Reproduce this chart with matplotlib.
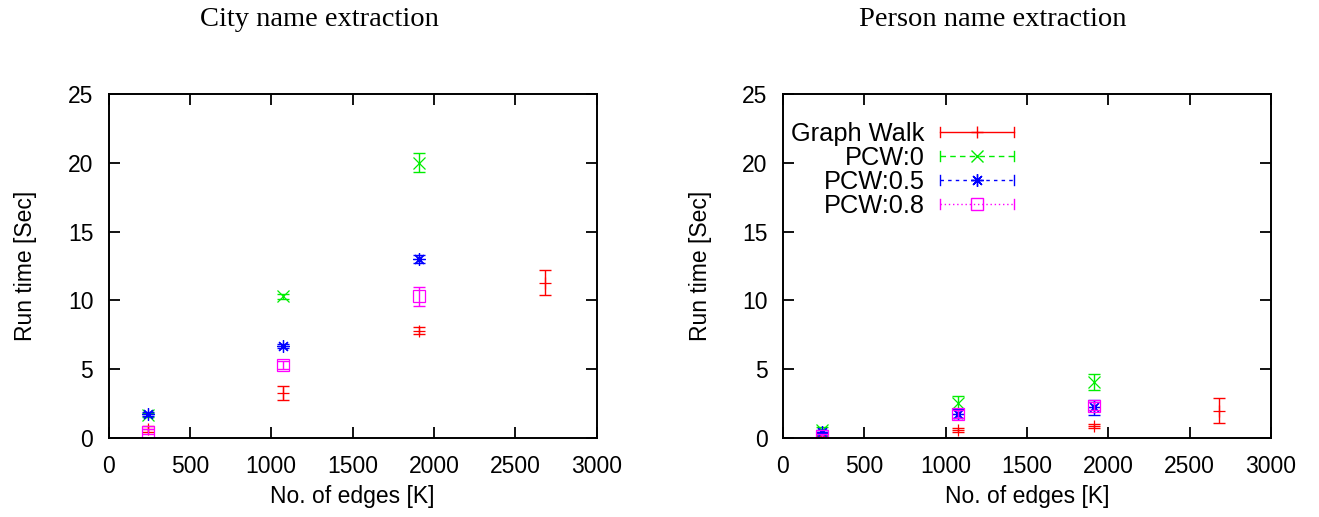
import matplotlib
matplotlib.use("Agg")
import matplotlib.pyplot as plt
from matplotlib.lines import Line2D
from matplotlib.legend_handler import HandlerLine2D

# x positions (K edges)
edges_gw = [240, 1075, 1910, 2680]
edges_pcw = [240, 1075, 1910]

# City name extraction: run time [sec] and error
city_gw = [0.7, 3.3, 7.8, 11.3]
city_gw_err = [0.2, 0.5, 0.25, 0.9]
city_pcw0 = [1.7, 10.3, 20.0]
city_pcw0_err = [0.15, 0.2, 0.7]
city_pcw05 = [1.75, 6.7, 13.0]
city_pcw05_err = [0.15, 0.15, 0.3]
city_pcw08 = [0.5, 5.3, 10.3]
city_pcw08_err = [0.2, 0.3, 0.7]

# Person name extraction
person_gw = [0.3, 0.6, 0.9, 2.0]
person_gw_err = [0.1, 0.15, 0.15, 0.9]
person_pcw0 = [0.6, 2.6, 4.1]
person_pcw0_err = [0.2, 0.5, 0.6]
person_pcw05 = [0.5, 1.8, 2.25]
person_pcw05_err = [0.1, 0.3, 0.55]
person_pcw08 = [0.2, 1.75, 2.35]
person_pcw08_err = [0.1, 0.3, 0.3]

labels = ["Graph Walk", "PCW:0", "PCW:0.5", "PCW:0.8"]
colors = ["#ff0000", "#00ee00", "#0000ff", "#ff00ff"]
markers = ["+", "x", (8, 2, 0), "s"]
styles = ["-", (0, (4, 3)), (0, (2.5, 3)), (0, (1, 2))]

sans = ["Liberation Sans", "DejaVu Sans"]
serif = ["Liberation Serif", "DejaVu Serif"]
FS = 16.5


class CapHandler(HandlerLine2D):
    # legend sample like gnuplot: line with end caps and a marker in the middle
    def create_artists(self, legend, orig_handle, xdescent, ydescent,
                       width, height, fontsize, trans):
        arts = super().create_artists(legend, orig_handle, xdescent, ydescent,
                                      width, height, fontsize, trans)
        y = height / 2 - ydescent
        half = 0.28 * height
        for x in (-xdescent, width - xdescent):
            arts.append(Line2D([x, x], [y - half, y + half],
                               color=orig_handle.get_color(), lw=1,
                               transform=trans))
        return arts


def draw(ax, series, errs):
    for i, (vals, err) in enumerate(zip(series, errs)):
        xs = edges_gw if i == 0 else edges_pcw
        ax.errorbar(xs, vals, yerr=err, fmt="none", ecolor=colors[i],
                    elinewidth=1, capsize=4.5, capthick=1)
        ax.plot(xs, vals, linestyle="none", marker=markers[i], color=colors[i],
                ms=9, mew=0.9, mfc="none")
    ax.set_xlim(0, 3000)
    ax.set_ylim(0, 25)
    ax.set_xticks(range(0, 3001, 500))
    ax.set_yticks(range(0, 26, 5))
    ax.tick_params(direction="in", top=True, right=True, length=8, width=1.3,
                   labelsize=FS)
    ax.tick_params(axis="x", pad=12)
    ax.tick_params(axis="y", pad=11)
    for t in ax.get_xticklabels() + ax.get_yticklabels():
        t.set_family(sans)
    for s in ax.spines.values():
        s.set_linewidth(1.4)
    ax.set_xlabel("No. of edges [K]", fontsize=FS, family=sans, labelpad=5)
    ax.set_ylabel("Run time [Sec]", fontsize=FS, family=sans, labelpad=22)


fig = plt.figure(figsize=(13.19, 5.17), dpi=100)
ax1 = fig.add_axes([0.0823, 0.152, 0.370, 0.667])
ax2 = fig.add_axes([0.5936, 0.152, 0.370, 0.667])

draw(ax1, [city_gw, city_pcw0, city_pcw05, city_pcw08],
     [city_gw_err, city_pcw0_err, city_pcw05_err, city_pcw08_err])
draw(ax2, [person_gw, person_pcw0, person_pcw05, person_pcw08],
     [person_gw_err, person_pcw0_err, person_pcw05_err, person_pcw08_err])

fig.text(0.242, 0.962, "City name extraction", fontsize=20.5, family=serif,
         ha="center", va="center")
fig.text(0.753, 0.962, "Person name extraction", fontsize=20.5, family=serif,
         ha="center", va="center")

handles = [Line2D([], [], color=c, linestyle=ls, marker=m, ms=9, mew=1,
                  mfc="none", lw=1)
           for c, ls, m in zip(colors, styles, markers)]
leg = ax2.legend(handles, labels, loc="upper left", bbox_to_anchor=(-0.03, 0.985),
                 frameon=False, markerfirst=False, numpoints=1,
                 handlelength=2.9, handletextpad=0.6, labelspacing=0.0,
                 prop={"family": sans, "size": 18.3},
                 handler_map={Line2D: CapHandler()})

fig.savefig("out.png", dpi=100)
